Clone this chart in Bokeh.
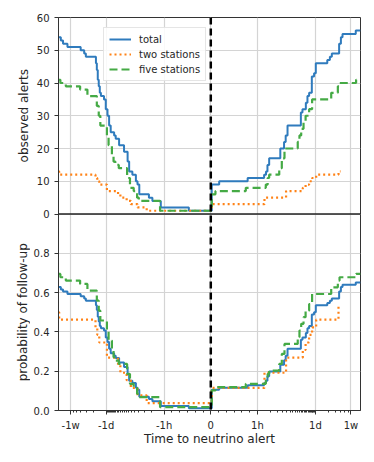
import numpy as np
from bokeh.plotting import figure
from bokeh.layouts import row
from bokeh.core.properties import value
from bokeh.models import (Range1d, FixedTicker, CustomJSTickFormatter, Span)
from bokeh.embed import file_html
from bokeh.resources import INLINE

# ---------------- data (time in hours relative to the neutrino alert) -------------
total_t = [-327, -288, -255, -200, -97, -80, -73, -42, -40, -38, -36, -34, -32, -27,
           -24.5, -22.3, -20.4, -18.7, -15.5, -14.2, -11.8, -9.0, -7.4, -6.8, -5.7,
           -4.7, -4.3, -3.9, -2.3, -1.9, -1.2, -0.47,
           0.02, 0.18, 0.79, 1.44, 1.6, 1.73, 1.9, 3.5, 4.3, 4.7, 5.2, 10.8, 11.8,
           14.2, 15.5, 17.0, 19.7, 22.3, 24.5, 46, 53, 59, 88, 97, 106, 219, 284]
total_n = [54, 53, 52, 51, 50, 49, 48, 46, 44, 41, 39, 37, 36, 35, 32, 30, 27, 25,
           24, 23, 21, 19, 16, 13, 12, 10, 9, 6, 5, 4, 2, 1,
           9, 10, 11, 12, 13, 15, 17, 20, 22, 24, 27, 31, 32, 34, 36, 37, 42, 43, 46,
           47, 48, 49, 52, 54, 55, 56, 56]
total_p = [0.628, 0.616, 0.605, 0.593, 0.581, 0.570, 0.558, 0.535, 0.512, 0.477,
           0.453, 0.430, 0.419, 0.407, 0.372, 0.349, 0.314, 0.291, 0.279, 0.267,
           0.244, 0.221, 0.186, 0.151, 0.140, 0.116, 0.105, 0.070, 0.058, 0.047,
           0.023, 0.012,
           0.105, 0.116, 0.128, 0.140, 0.151, 0.174, 0.198, 0.233, 0.256, 0.279,
           0.314, 0.360, 0.372, 0.395, 0.419, 0.430, 0.488, 0.500, 0.535, 0.547,
           0.558, 0.570, 0.605, 0.628, 0.640, 0.651, 0.651]

two_t = [-327, -315, -43, -39, -35, -23, -12.5, -11, -7.8, -6.2, -4.3, -2.6,
         0.02, 1.47, 4.8, 12, 14, 17, 20, 25, 85, 95]
two_n = [13, 12, 11, 10, 9, 7, 6, 5, 4, 3, 2, 1,
         3, 5, 7, 8, 9, 10, 11, 12, 13, 13]
two_p = [0.500, 0.462, 0.423, 0.385, 0.346, 0.269, 0.231, 0.192, 0.154, 0.115,
         0.077, 0.038,
         0.115, 0.192, 0.269, 0.308, 0.346, 0.385, 0.423, 0.462, 0.530, 0.530]

five_t = [-327, -295, -219, -100, -67, -40, -36, -33, -23, -21, -17.5, -16, -14.5,
          -12, -7.6, -6.5, -5.3, -4.4, -4.0, -1.25,
          0.02, 0.1, 0.75, 1.58, 1.75, 1.9, 3.3, 3.8, 4.4, 9.1, 10.0, 11.0, 12.5,
          14.0, 17.0, 20.0, 57, 82, 90, 223, 284]
five_n = [41, 40, 39, 38, 36, 33, 30, 27, 24, 21, 18, 16, 15, 14, 11, 8, 7, 5, 4, 1,
          6, 7, 8, 9, 11, 12, 14, 17, 20, 22, 24, 26, 28, 30, 32, 35, 37, 39, 40,
          41, 41]
five_p = [0.695, 0.678, 0.661, 0.644, 0.610, 0.559, 0.508, 0.458, 0.407, 0.356,
          0.305, 0.271, 0.254, 0.237, 0.186, 0.136, 0.119, 0.085, 0.068, 0.017,
          0.102, 0.119, 0.136, 0.153, 0.186, 0.203, 0.237, 0.288, 0.339, 0.373,
          0.407, 0.441, 0.475, 0.508, 0.542, 0.593, 0.627, 0.661, 0.678, 0.695,
          0.695]

x_tick_hours = [-168, -24, -1, 0, 1, 24, 168]
x_tick_labels = ["-1w", "-1d", "-1h", "0", "1h", "1d", "1w"]
minor_hours = ([m / 6 for m in range(1, 6)] + list(range(2, 24))
               + [48, 72, 96, 120, 144])
top_yticks = [0, 10, 20, 30, 40, 50, 60]
bottom_yticks = [0.0, 0.2, 0.4, 0.6, 0.8]
top_ylabel = "observed alerts"
bottom_ylabel = "probability of follow-up"
xlabel = "Time to neutrino alert"

# ---------------- symmetric log time scale (linear within +-1h) -------------------
LINSCALE = 1.0 / 0.9


def symlog(h):
    h = np.asarray(h, dtype=float)
    a = np.abs(h)
    out = np.where(a >= 1.0, LINSCALE + np.log10(np.maximum(a, 1.0)), a * LINSCALE)
    return np.sign(h) * out


major_T = [float(v) for v in symlog(x_tick_hours)]
minor_T = ([float(v) for v in symlog(minor_hours)]
           + [float(-v) for v in symlog(minor_hours)])

FONT = "DejaVu Sans"
TXT = "#262626"
SPINE = "#333333"
GRID = "#d4d4d4"
C_TOTAL = "#2f7bbd"
C_TWO = "#ff8216"
C_FIVE = "#45aa45"

x0 = float(symlog(-327))
x1 = float(symlog(284))
FRAME_H = 393
TOP_B = 17
BOT_B = 46

# One frame holding both panels: lower half = probability (0..1 on the main range),
# upper half = counts (0..60 on an extra range whose midpoint is the panel border).
p = figure(frame_width=302, frame_height=FRAME_H,
           x_range=Range1d(x0, x1), y_range=Range1d(0, 2.0),
           output_backend="svg", toolbar_location=None,
           min_border_left=28, min_border_right=8, min_border_top=TOP_B,
           min_border_bottom=6)
p.extra_y_ranges = {"top": Range1d(-60, 60)}
p.outline_line_color = SPINE
p.outline_line_width = 1
p.background_fill_color = "white"
p.border_fill_color = "white"

y_pos = list(bottom_yticks) + [1.0 + c / 60.0 for c in top_yticks]
y_lab = ["%.1f" % v for v in bottom_yticks] + [str(c) for c in top_yticks]
p.yaxis.ticker = FixedTicker(ticks=y_pos)
p.yaxis.formatter = CustomJSTickFormatter(
    args=dict(majors=y_pos, labs=y_lab),
    code="""
for (let i = 0; i < majors.length; i++) {
  if (Math.abs(majors[i] - tick) < 1e-6) { return labs[i]; }
}
return "";
""")

p.xaxis.ticker = FixedTicker(ticks=major_T, minor_ticks=minor_T)
p.xaxis.formatter = CustomJSTickFormatter(
    args=dict(majors=major_T, labs=x_tick_labels),
    code="""
for (let i = 0; i < majors.length; i++) {
  if (Math.abs(majors[i] - tick) < 1e-6) { return labs[i]; }
}
return "";
""")
p.xaxis.axis_label = xlabel

for ax in (p.xaxis[0], p.yaxis[0]):
    ax.major_label_text_font = FONT
    ax.major_label_text_font_size = "10px"
    ax.major_label_text_color = TXT
    ax.axis_label_text_font = FONT
    ax.axis_label_text_font_size = "12px"
    ax.axis_label_text_font_style = "normal"
    ax.axis_label_text_color = TXT
    ax.major_tick_in = 0
    ax.major_tick_out = 4
    ax.minor_tick_in = 0
    ax.minor_tick_out = 2
    ax.axis_line_color = SPINE
    ax.major_tick_line_color = SPINE
    ax.minor_tick_line_color = SPINE
    ax.major_label_standoff = 5
p.xaxis.axis_label_standoff = -2

for g in p.xgrid + p.ygrid:
    g.grid_line_color = GRID
    g.grid_line_width = 1.2

series = [
    ("total", total_t, total_n, total_p, C_TOTAL, "solid", 2.0),
    ("two stations", two_t, two_n, two_p, C_TWO, "2 3", 2.2),
    ("five stations", five_t, five_n, five_p, C_FIVE, "8 4", 2.2),
]

for name, t, n, pr, col, dash, lw in series:
    xs = symlog(t)
    p.step(x=xs, y=n, mode="after", line_color=col, line_width=lw,
           line_dash=dash, legend_label=name, y_range_name="top")
    p.step(x=xs, y=pr, mode="after", line_color=col, line_width=lw,
           line_dash=dash)

p.add_layout(Span(location=1.0, dimension="width", line_color="#222222",
                  line_width=1.5))
p.add_layout(Span(location=0, dimension="height", line_color="black",
                  line_width=2.5, line_dash="7 4"))

lg = p.legend[0]
lg.location = (45, 329)
lg.margin = 0
lg.padding = 5
lg.spacing = 3
lg.label_height = 12
lg.glyph_height = 12
lg.glyph_width = 22
lg.label_standoff = 8
lg.label_text_font = FONT
lg.label_text_font_size = "10px"
lg.label_text_color = TXT
lg.border_line_color = "#cccccc"
lg.border_line_width = 1
lg.background_fill_color = "white"
lg.background_fill_alpha = 0.85

# narrow strip on the left carrying the two panel y-labels
lf = figure(frame_width=30, frame_height=FRAME_H,
            x_range=Range1d(0, 30), y_range=Range1d(0, 2.0),
            x_axis_location=None, y_axis_location=None,
            output_backend="svg", toolbar_location=None,
            min_border_left=0, min_border_right=0, min_border_top=TOP_B,
            min_border_bottom=BOT_B)
lf.outline_line_color = None
lf.grid.visible = False
lf.background_fill_color = "white"
lf.border_fill_color = "white"
lf.text(x=[23.0, 22.0], y=[1.5, 0.5], text=[top_ylabel, bottom_ylabel],
        angle=np.pi / 2, text_align="center", text_baseline="middle",
        text_font=value(FONT), text_font_size=value("12px"), text_color=TXT)

layout = row(lf, p, spacing=0)

with open("out.html", "w") as f:
    f.write(file_html(layout, INLINE))
